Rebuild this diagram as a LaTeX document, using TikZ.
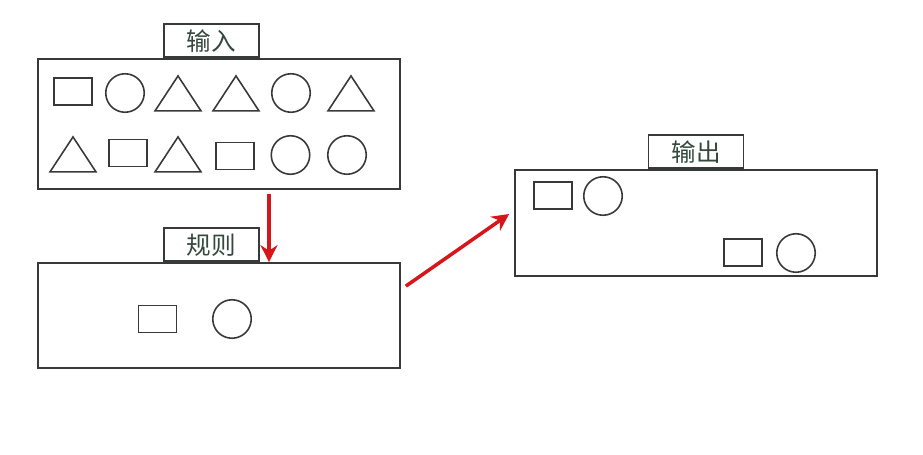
\documentclass[tikz,border=0pt]{standalone}
\usepackage{fontspec}
\newfontfamily\cjk{Noto Sans CJK SC}
\usetikzlibrary{positioning,arrows.meta,shapes.geometric}
\definecolor{linegray}{RGB}{55,58,56}
\definecolor{textgreen}{RGB}{52,72,62}
\definecolor{arrred}{RGB}{214,22,26}

\begin{document}
\begin{tikzpicture}[x=0.02cm, y=-0.02cm,
  bx/.style={draw=linegray, line width=1pt, minimum width=7.24cm, inner sep=0cm},
  tab/.style={draw=linegray, line width=1pt, minimum width=1.9cm, minimum height=0.66cm,
    inner sep=0cm, font=\cjk\fontsize{14}{16}\selectfont, text=textgreen},
  Rn/.style={draw=linegray, line width=0.9pt, minimum width=0.76cm, minimum height=0.54cm, inner sep=0cm},
  Cn/.style={draw=linegray, line width=0.9pt, circle, minimum size=0.77cm, inner sep=0cm},
  Tn/.style={draw=linegray, line width=0.9pt, isosceles triangle, shape border rotate=90,
    isosceles triangle stretches, minimum width=0.92cm, minimum height=0.7cm, inner sep=0cm,
    yshift=-0.12cm},
  redarr/.style={draw=arrred, line width=2pt, -{Stealth[length=3.4mm,width=3.4mm]}}]
\useasboundingbox (0,0) rectangle (923,454);

% the three boxes with their tabs
\node[bx, minimum height=2.6cm] at (219,124) (in) {};
\node[tab, above=0cm of in.north, xshift=-0.15cm] (intab) {输入};
\node[bx, minimum height=2.1cm] at (219,315.5) (rl) {};
\node[tab, above=0cm of rl.north, xshift=-0.15cm] (rltab) {规则};
\node[bx, minimum height=2.12cm] at (696,223) (out) {};
\node[tab, above=0cm of out.north] (outtab) {输出};

% input, first row
\node[Rn] at (73,91.5) (a1) {};
\node[Cn] at (125,93) (a2) {};
\node[Tn] at (178,92.5) (a3) {};
\node[Tn] at (236,92.5) (a4) {};
\node[Cn] at (291,93) (a5) {};
\node[Tn] at (351,92.5) (a6) {};
% input, second row
\node[Tn] at (73,153.5) (b1) {};
\node[Rn] at (128,153) (b2) {};
\node[Tn] at (178,153.5) (b3) {};
\node[Rn] at (235,156) (b4) {};
\node[Cn] at (290.5,155) (b5) {};
\node[Cn] at (347,155) (b6) {};

% rule
\node[Rn] at (157.5,319) (r1) {};
\node[Cn] at (232,319) (r2) {};

% output
\node[Rn] at (553,195.5) (o1) {};
\node[Cn] at (603,196) (o2) {};
\node[Rn] at (743,252.5) (o3) {};
\node[Cn] at (796,253) (o4) {};

\draw[redarr] ([xshift=1cm, yshift=-0.08cm]in.south) -- ([xshift=1cm]rl.north);
\draw[redarr] ([shift={(0.1cm,-0.48cm)}]rl.north east) -- ([shift={(-0.1cm,0.18cm)}]out.west);

\end{tikzpicture}
\end{document}
